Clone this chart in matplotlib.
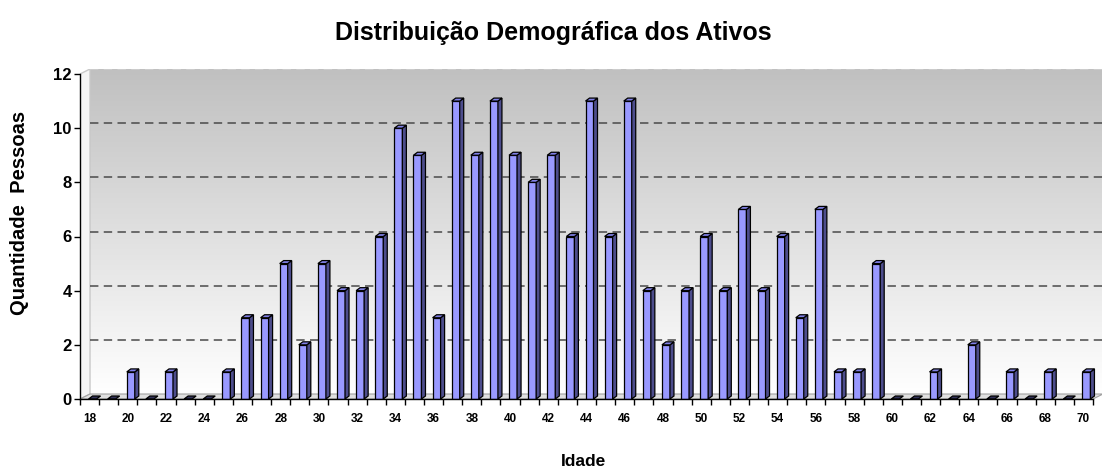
import numpy as np
import matplotlib
matplotlib.use("Agg")
import matplotlib.pyplot as plt
from matplotlib.patches import Polygon
from matplotlib.colors import LinearSegmentedColormap

ages = list(range(18, 71))
counts = [0, 0, 1, 0, 1, 0, 0, 1, 3, 3, 5, 2, 5, 4, 4, 6, 10, 9, 3, 11, 9, 11, 9, 8, 9,
          6, 11, 6, 11, 4, 2, 4, 6, 4, 7, 4, 6, 3, 7, 1, 1, 5, 0, 0, 1, 0, 2, 0, 1, 0, 1, 0, 1]
yticks = [0, 2, 4, 6, 8, 10, 12]
xtick_ages = list(range(18, 71, 2))

title = "Distribuição Demográfica dos Ativos"
xlabel = "Idade"
ylabel = "Quantidade  Pessoas"

plt.rcParams['font.family'] = ['Liberation Sans', 'DejaVu Sans']

W, H = 1106, 470
fig = plt.figure(figsize=(W / 100, H / 100), dpi=100)

# pixel layout
x_left, x_front_right, x_back_right = 80, 1093, 1102
y_zero, y_twelve, y_top = 399, 74, 69
n = len(ages)
cat_px = (x_front_right - x_left) / n
unit_px = (y_zero - y_twelve) / 12.0

ax = fig.add_axes([x_left / W, (H - y_zero) / H, (x_back_right - x_left) / W, (y_zero - y_top) / H])
xmin = -0.5
xmax = -0.5 + (x_back_right - x_left) / cat_px
ymax = 12 + (y_twelve - y_top) / unit_px
ax.set_xlim(xmin, xmax)
ax.set_ylim(0, ymax)
for s in ax.spines.values():
    s.set_visible(False)

wdx = 10 / cat_px
wdy = 5 / unit_px

# back wall gradient
cmap = LinearSegmentedColormap.from_list("g", ["#ffffff", "#c0c0c0"])
grad = np.linspace(0, 1, 256)[:, None]
ax.imshow(grad, extent=[xmin + wdx, xmax, wdy, ymax], origin="lower", aspect="auto",
          cmap=cmap, zorder=0)
# left wall
ax.add_patch(Polygon([(xmin, 0), (xmin, 12), (xmin + wdx, 12 + wdy), (xmin + wdx, wdy)],
                     closed=True, facecolor="#f4f4f4", edgecolor="#c8c8c8", lw=1, zorder=0.5))
# floor
ax.add_patch(Polygon([(xmin, 0), (n - 0.5, 0), (n - 0.5 + wdx, wdy), (xmin + wdx, wdy)],
                     closed=True, facecolor="#e0e0e0", edgecolor="#a0a0a0", lw=0.8, zorder=0.5))
# gridlines on back wall
for t in yticks[1:]:
    col = "#d0d0d0" if t == 12 else "#4a4a4a"
    ax.plot([xmin + wdx, xmax], [t + wdy, t + wdy], color=col, lw=1.1,
            dashes=(5.5, 3.5), zorder=1)

# bars with 3D effect
f_l = -1 / cat_px
f_r = 7 / cat_px
bdx = 4 / cat_px
bdy = 3 / unit_px
front_c = "#9999ff"
side_c = "#4d4d8c"
top_c = "#8080e6"
for i, v in enumerate(counts):
    xl, xr = i + f_l, i + f_r
    z = 3 + i * 0.001
    if v > 0:
        ax.bar(i + (f_l + f_r) / 2, v, width=f_r - f_l, color=front_c, edgecolor="black",
               lw=0.9, zorder=z)
        ax.add_patch(Polygon([(xr, 0), (xr + bdx, bdy), (xr + bdx, v + bdy), (xr, v)],
                             closed=True, facecolor=side_c, edgecolor="black", lw=0.9, zorder=z))
        ax.add_patch(Polygon([(xl, v), (xr, v), (xr + bdx, v + bdy), (xl + bdx, v + bdy)],
                             closed=True, facecolor=top_c, edgecolor="black", lw=0.9, zorder=z))
    else:
        ax.add_patch(Polygon([(xl, 0), (xr, 0), (xr + bdx, bdy), (xl + bdx, bdy)],
                             closed=True, facecolor="#33335a", edgecolor="black", lw=0.9, zorder=z))

# axis lines
ax.plot([xmin, xmin], [0, 12], color="black", lw=1, zorder=5, clip_on=False)
ax.plot([xmin, n - 0.5], [0, 0], color="black", lw=1, zorder=5, clip_on=False)

# ticks
ax.set_yticks(yticks)
ax.set_yticklabels([str(t) for t in yticks], fontsize=12, fontweight="bold")
ax.tick_params(axis="y", length=4, width=1, pad=2, direction="out")
ax.set_xticks([ages.index(a) for a in xtick_ages])
ax.set_xticklabels([str(a) for a in xtick_ages], fontsize=8.5, fontweight="bold")
ax.tick_params(axis="x", which="major", length=0, pad=10)
ax.set_xticks(np.arange(-0.5, n, 1.0), minor=True)
ax.tick_params(axis="x", which="minor", length=4, width=1, direction="out")

fig.text(0.5, 1 - 33 / H, title, ha="center", va="center", fontsize=18, fontweight="bold")
fig.text(583 / W, 1 - 462 / H, xlabel, ha="center", va="center", fontsize=12.5, fontweight="bold")
fig.text(20 / W, 1 - 213 / H, ylabel, ha="center", va="center", rotation=90,
         fontsize=14.5, fontweight="bold")

fig.savefig("out.png", dpi=100)
